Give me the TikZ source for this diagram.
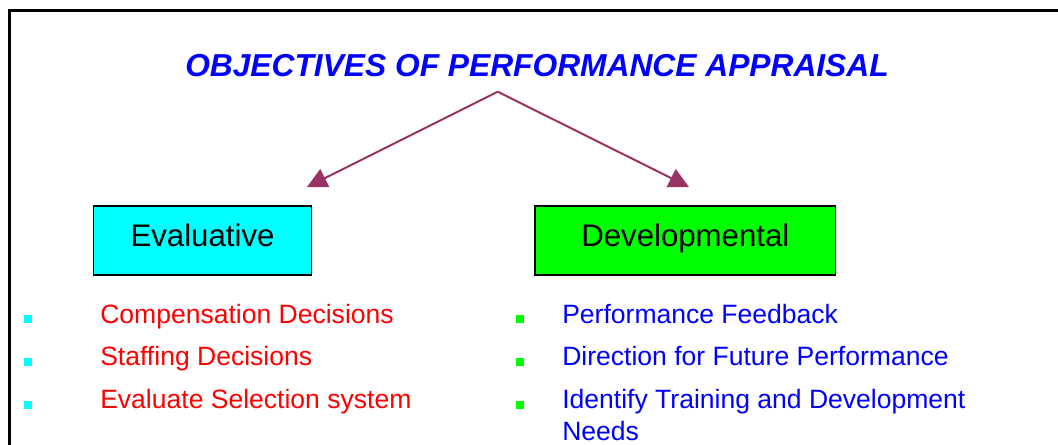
\documentclass[tikz,border=0pt]{standalone}
\usepackage{fontspec}
\setmainfont{Liberation Sans}
\usetikzlibrary{arrows.meta}
\definecolor{plum}{HTML}{993366}
\definecolor{aqua}{HTML}{00FFFF}
\definecolor{lime}{HTML}{00FF00}
\definecolor{pureblue}{HTML}{0000FF}
\definecolor{purered}{HTML}{FF0000}
\begin{document}
\begin{tikzpicture}[x=0.75pt,y=-0.75pt,
  catbox/.style={draw=black, line width=1pt, inner sep=0pt,
    minimum height=51.75pt, text height=17pt, text depth=7.7pt,
    font=\fontsize{23.4}{28}\selectfont},
  conn/.style={plum, line width=1.5pt, -{Triangle[length=15pt,width=15pt]}},
  bul/.style={rectangle, inner sep=0pt, minimum size=6pt},
  itemtxt/.style={anchor=base west, inner sep=0pt, align=left,
    font=\fontsize{19.9}{23.6}\selectfont}]
\useasboundingbox (0,0) rectangle (1058,444);
\clip (0,0) rectangle (1058,444);
\fill[white] (0,0) rectangle (1058,444);
\draw[line width=2.25pt] (9.5,470) -- (9.5,10.3) -- (1080,10.3);

\node[anchor=base, inner sep=0pt, text=pureblue,
  font=\fontsize{23.8}{28}\selectfont\bfseries\itshape] (title) at (537,76)
  {OBJECTIVES OF PERFORMANCE APPRAISAL};

\coordinate (apex) at (497.7,91.7);
\coordinate (ltip) at (307,187);
\coordinate (rtip) at (689,187);
\draw[conn] (apex) -- (ltip);
\draw[conn] (apex) -- (rtip);

\node[catbox, fill=aqua, minimum width=163.8pt] (eval) at (202.5,240.5) {Evaluative};
\node[catbox, fill=lime, minimum width=225.5pt] (dev) at (685.35,240.5) {Developmental};

\node[bul, fill=aqua] (lb1) at (27.5,319) {};
\node[bul, fill=aqua] (lb2) at (27.5,362) {};
\node[bul, fill=aqua] (lb3) at (27.5,404.5) {};
\node[itemtxt, text=purered] (l1) at (100,323) {Compensation Decisions};
\node[itemtxt, text=purered] (l2) at (100,365.7) {Staffing Decisions};
\node[itemtxt, text=purered] (l3) at (100,408.4) {Evaluate Selection system};

\node[bul, fill=lime] (rb1) at (520,319) {};
\node[bul, fill=lime] (rb2) at (520,362) {};
\node[bul, fill=lime] (rb3) at (520,404.5) {};
\node[itemtxt, text=pureblue] (r1) at (562,323) {Performance Feedback};
\node[itemtxt, text=pureblue] (r2) at (562,365.7) {Direction for Future Performance};
\node[itemtxt, text=pureblue] (r3) at (562,440) {Identify Training and Development\\Needs};
\end{tikzpicture}
\end{document}
